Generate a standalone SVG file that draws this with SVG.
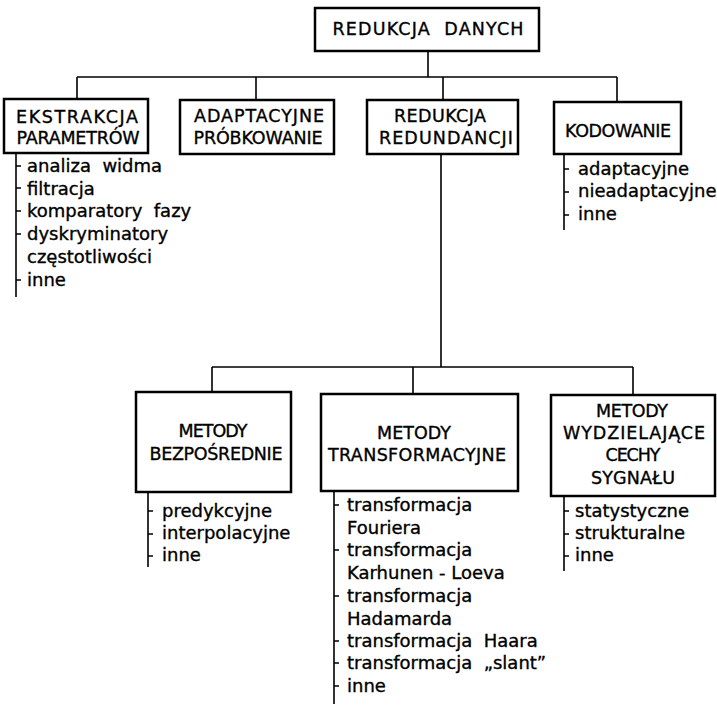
<svg xmlns="http://www.w3.org/2000/svg" width="717" height="707" viewBox="0 0 717 707">
<style>
.box{fill:#fff;stroke:#000;stroke-width:2.5}
.cn{fill:none;stroke:#000;stroke-width:1.6}
.tk{fill:none;stroke:#000;stroke-width:1.4}
.h{font-family:"DejaVu Sans","Liberation Sans",sans-serif;font-size:17.5px;fill:#000;stroke:#000;stroke-width:0.35;text-anchor:middle;white-space:pre}
.i{font-family:"DejaVu Sans","Liberation Sans",sans-serif;font-size:18px;fill:#000;stroke:#000;stroke-width:0.35;white-space:pre}
</style>
<rect width="717" height="707" fill="#fff"/>
<g id="connectors">
<path class="cn" d="M428 51V77M77 77H617M77 77V99M256 77V100M443 77V100M617 77V102"/>
<path class="cn" d="M441 154V367M212 367H633M212 367V392M413 367V394M633 367V395"/>
<path class="cn" d="M16 153V297M564 154V230M148 492V567M334 491V704M564 496V571"/>
<path class="tk" d="M16 166h5M16 188h5M16 211h5M16 234h5M16 280h5"/>
<path class="tk" d="M564 169h5M564 192h5M564 215h5"/>
<path class="tk" d="M148 511h5M148 534h5M148 556h5"/>
<path class="tk" d="M334 505h5M334 550h5M334 596h5M334 641h5M334 663h5M334 686h5"/>
<path class="tk" d="M564 511h5M564 534h5M564 556h5"/>
</g>
<g id="root">
<rect class="box" x="315" y="8" width="224" height="43"/>
<text class="h" x="428" y="35" textLength="191" lengthAdjust="spacing">REDUKCJA  DANYCH</text>
</g>
<g id="ekstrakcja">
<rect class="box" x="4" y="99" width="144" height="54"/>
<text class="h" x="77" y="123" textLength="122" lengthAdjust="spacing">EKSTRAKCJA</text>
<text class="h" x="78" y="144" textLength="123" lengthAdjust="spacing">PARAMETRÓW</text>
<text class="i" x="27" y="172">analiza  widma</text>
<text class="i" x="27" y="194.5">filtracja</text>
<text class="i" x="27" y="217">komparatory  fazy</text>
<text class="i" x="27" y="240">dyskryminatory</text>
<text class="i" x="27" y="263">częstotliwości</text>
<text class="i" x="27" y="286">inne</text>
</g>
<g id="adaptacyjne">
<rect class="box" x="180" y="100" width="154" height="54"/>
<text class="h" x="259" y="122" textLength="130" lengthAdjust="spacing">ADAPTACYJNE</text>
<text class="h" x="258" y="144" textLength="129" lengthAdjust="spacing">PRÓBKOWANIE</text>
</g>
<g id="redukcja-redundancji">
<rect class="box" x="367" y="100" width="151" height="54"/>
<text class="h" x="440" y="122" textLength="92" lengthAdjust="spacing">REDUKCJA</text>
<text class="h" x="446" y="144" textLength="134" lengthAdjust="spacing">REDUNDANCJI</text>
</g>
<g id="kodowanie">
<rect class="box" x="554" y="102" width="127" height="52"/>
<text class="h" x="618" y="137" textLength="106" lengthAdjust="spacing">KODOWANIE</text>
<text class="i" x="578" y="175">adaptacyjne</text>
<text class="i" x="578" y="197">nieadaptacyjne</text>
<text class="i" x="578" y="220">inne</text>
</g>
<g id="bezposrednie">
<rect class="box" x="136" y="392" width="155" height="100"/>
<text class="h" x="213" y="437" textLength="69" lengthAdjust="spacing">METODY</text>
<text class="h" x="216" y="460" textLength="133" lengthAdjust="spacing">BEZPOŚREDNIE</text>
<text class="i" x="162" y="517">predykcyjne</text>
<text class="i" x="162" y="539">interpolacyjne</text>
<text class="i" x="162" y="561">inne</text>
</g>
<g id="transformacyjne">
<rect class="box" x="321" y="394" width="197" height="97"/>
<text class="h" x="414" y="439" textLength="74" lengthAdjust="spacing">METODY</text>
<text class="h" x="417" y="461" textLength="178" lengthAdjust="spacing">TRANSFORMACYJNE</text>
<text class="i" x="347" y="511">transformacja</text>
<text class="i" x="347" y="534">Fouriera</text>
<text class="i" x="347" y="556">transformacja</text>
<text class="i" x="347" y="579">Karhunen - Loeva</text>
<text class="i" x="347" y="602">transformacja</text>
<text class="i" x="347" y="625">Hadamarda</text>
<text class="i" x="347" y="647">transformacja  Haara</text>
<text class="i" x="347" y="669">transformacja  „slant”</text>
<text class="i" x="347" y="692">inne</text>
</g>
<g id="wydzielajace">
<rect class="box" x="551" y="395" width="164" height="101"/>
<text class="h" x="632" y="417" textLength="72" lengthAdjust="spacing">METODY</text>
<text class="h" x="634" y="439" textLength="142" lengthAdjust="spacing">WYDZIELAJĄCE</text>
<text class="h" x="633" y="461" textLength="55" lengthAdjust="spacing">CECHY</text>
<text class="h" x="633" y="484" textLength="84" lengthAdjust="spacing">SYGNAŁU</text>
<text class="i" x="575" y="517">statystyczne</text>
<text class="i" x="575" y="539">strukturalne</text>
<text class="i" x="575" y="561">inne</text>
</g>
</svg>
